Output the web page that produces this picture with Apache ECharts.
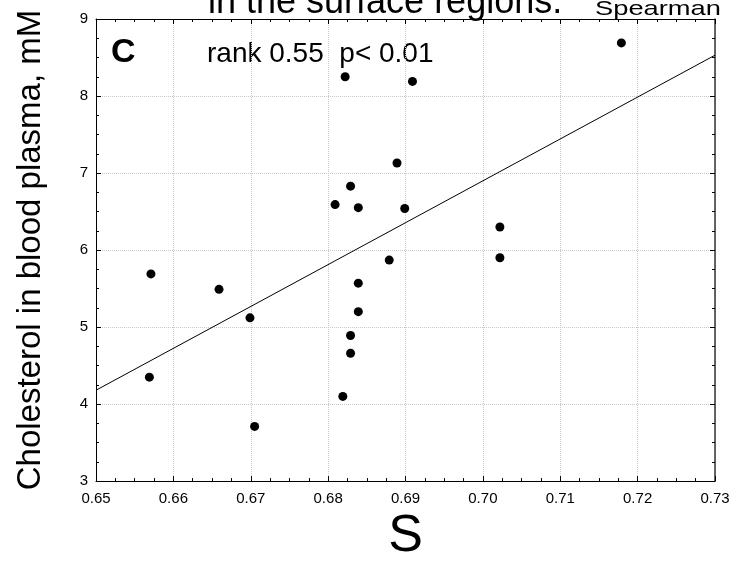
<!DOCTYPE html>
<html>
<head>
<meta charset="utf-8">
<script src="https://cdn.jsdelivr.net/npm/echarts@6/dist/echarts.min.js"></script>
<style>html,body{margin:0;padding:0;background:#fff}#c{width:738px;height:568px}</style>
</head>
<body>
<div id="c"></div>
<script>
// Data
var sValues = [0.6571, 0.6569, 0.6659, 0.6699, 0.6705, 0.6809, 0.6822, 0.6819, 0.6829, 0.6829, 0.6829, 0.6839, 0.6839, 0.6839, 0.6879, 0.6889, 0.6899, 0.6909, 0.7022, 0.7022, 0.7179];
var cholesterol = [5.69, 4.35, 5.49, 5.12, 3.71, 6.59, 8.25, 4.10, 6.83, 4.89, 4.66, 6.55, 5.57, 5.20, 5.87, 7.13, 6.54, 8.19, 6.30, 5.90, 8.69];
var fitX = [0.65, 0.73];
var fitY = [4.18, 8.53];
var xTicks = [0.65, 0.66, 0.67, 0.68, 0.69, 0.70, 0.71, 0.72, 0.73];
var yTicks = [3, 4, 5, 6, 7, 8, 9];
var titleMain = 'in the surface regions.';
var titleSub = 'Spearman';
var panelLetter = 'C';
var statText = 'rank 0.55  p< 0.01';
var xName = 'S';
var yName = 'Cholesterol in blood plasma, mM';

var FONT = 'Liberation Sans, Arial, sans-serif';
var points = sValues.map(function (v, i) { return [v, cholesterol[i]]; });
var line = fitX.map(function (v, i) { return [v, fitY[i]]; });

var chart = echarts.init(document.getElementById('c'), null, {renderer: 'canvas'});
var axisCommon = {
  axisLine: {show: true, onZero: false, lineStyle: {color: '#000', width: 1}},
  axisTick: {show: true, inside: true, length: 5, lineStyle: {color: '#000'}},
  minorTick: {show: true, splitNumber: 4, length: 3, lineStyle: {color: '#000'}},
  splitLine: {show: true, lineStyle: {color: '#c8c8c8', type: 'dotted', width: 1}}
};
chart.setOption({
  animation: false,
  backgroundColor: '#fff',
  grid: {left: 96, right: 23, top: 19, bottom: 75},
  xAxis: [
    Object.assign({}, axisCommon, {
      type: 'value', min: 0.65, max: 0.73, interval: 0.01,
      name: xName, nameLocation: 'middle', nameGap: 28,
      nameTextStyle: {fontFamily: FONT, fontSize: 52, color: '#000'},
      axisLabel: {fontFamily: FONT, fontSize: 15, color: '#000', margin: 10,
        formatter: function (v) { return v.toFixed(2); }}
    }),
    Object.assign({}, axisCommon, {
      type: 'value', min: 0.65, max: 0.73, interval: 0.01, position: 'top',
      axisLabel: {show: false}, splitLine: {show: false}
    })
  ],
  yAxis: [
    Object.assign({}, axisCommon, {
      type: 'value', min: 3, max: 9, interval: 1,
      axisLabel: {fontFamily: FONT, fontSize: 15, color: '#000', margin: 8}
    }),
    Object.assign({}, axisCommon, {
      type: 'value', min: 3, max: 9, interval: 1, position: 'right',
      axisLabel: {show: false}, splitLine: {show: false},
      axisLine: {show: true, onZero: false, lineStyle: {color: '#333', width: 1.5}}
    })
  ],
  series: [
    {type: 'line', data: line, xAxisIndex: 0, yAxisIndex: 0, symbol: 'none',
     lineStyle: {color: '#000', width: 1}, silent: true},
    {type: 'scatter', data: points, xAxisIndex: 0, yAxisIndex: 0, symbol: 'circle', symbolSize: 9,
     itemStyle: {color: '#000', opacity: 1}}
  ],
  graphic: [
    {type: 'text', left: 208, top: -15, style: {text: titleMain, font: '36px ' + FONT, fill: '#000'}},
    {type: 'text', x: 595, y: 20, scaleX: 1.3,
     style: {text: titleSub, font: '21px ' + FONT, fill: '#000', align: 'left', verticalAlign: 'bottom'}},
    {type: 'text', left: 111, top: 36, style: {text: panelLetter, font: 'bold 34px ' + FONT, fill: '#000'}},
    {type: 'text', left: 207, top: 40, style: {text: statText, font: '28px ' + FONT, fill: '#000'}},
    {type: 'text', x: 31, y: 250, rotation: Math.PI / 2,
     style: {text: yName, font: '33px ' + FONT, fill: '#000', align: 'center', verticalAlign: 'middle'}}
  ]
});
</script>
</body>
</html>
